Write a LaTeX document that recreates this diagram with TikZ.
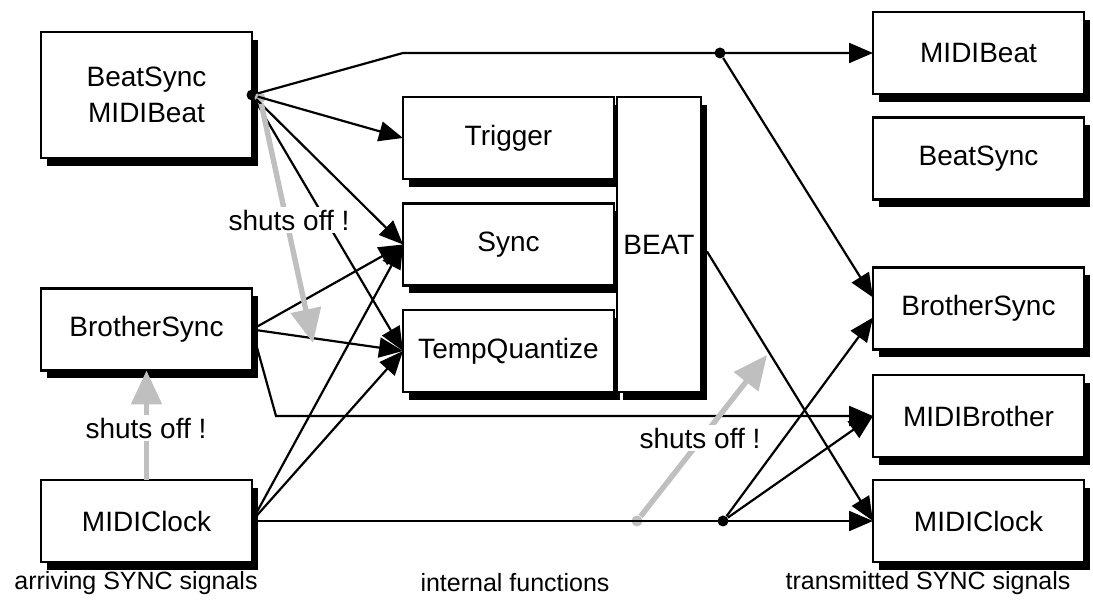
\documentclass[tikz,border=0pt]{standalone}
\usepackage{fontspec}
\setmainfont{Liberation Sans}
\usetikzlibrary{arrows.meta}
\usetikzlibrary{shadows}
\usetikzlibrary{positioning}

\begin{document}
\begin{tikzpicture}[x=0.5pt, y=-0.5pt,
    box/.style={draw, line width=1.3pt, fill=white, inner sep=0pt, outer sep=0pt,
      minimum width=105.5pt, minimum height=41pt, align=center,
      font=\fontsize{14}{18}\selectfont,
      drop shadow={shadow xshift=3pt, shadow yshift=-4pt, fill=black, opacity=1}},
    sig/.style={line width=1.1pt, -{Triangle[length=12pt, width=10pt]}},
    shut/.style={line width=2.7pt, black!25, -{Triangle[length=17pt, width=15pt]}},
    shutlbl/.style={fill=white, inner sep=1.5pt, font=\fontsize{14}{17}\selectfont},
    dot/.style={circle, fill=black, inner sep=0pt, minimum size=5.5pt},
    gdot/.style={circle, fill=black!25, inner sep=0pt, minimum size=5.5pt},
    caption/.style={font=\fontsize{12.5}{15}\selectfont}]
    \useasboundingbox (0,0) rectangle (1093,603);

    % arriving signals
    \node[box, minimum height=63pt] (lbeat) at (146.5,95) {BeatSync\\ MIDIBeat};
    \node[box] (lbro) at (146.5,329.5) {BrotherSync};
    \node[box] (lclk) at (146.5,521) {MIDIClock};

    % internal functions
    \node[box] (trig) at (508.5,138) {Trigger};
    \node[box] (sync) at (508.5,244.5) {Sync};
    \node[box] (tq) at (508.5,351) {TempQuantize};
    \node[box, minimum width=42pt, minimum height=147.5pt] (beat) at (659,244.5) {BEAT};

    % transmitted signals
    \node[box] (rbeat) at (978.5,53) {MIDIBeat};
    \node[box] (rbsync) at (978.5,158.5) {BeatSync};
    \node[box] (rbro) at (978.5,308.5) {BrotherSync};
    \node[box] (rmbro) at (978.5,416) {MIDIBrother};
    \node[box] (rclk) at (978.5,521) {MIDIClock};

    % branch points
    \node[dot] (bd) at (lbeat.east) {};
    \node[gdot] (gd) at (260,98) {};
    \node[dot] (td) at (720,53) {};
    \node[dot] (cd) at (723,521) {};
    \node[gdot] (gc) at (637,521) {};
    \coordinate (bend1) at (403,53);
    \coordinate (bend2) at (276,416);

    \draw[sig] (bd) -- (bend1) -- (rbeat.west);
    \draw[sig] (td) -- ([yshift=5.5pt]rbro.west);
    \draw[sig] (bd) -- (trig.west);
    \draw[sig] (bd) -- (sync.west);
    \draw[sig] (bd) -- (tq.west);

    \draw[sig] (lbro.east) -- (sync.west);
    \draw[sig] (lbro.east) -- (tq.west);
    \draw[sig] (lbro.east) -- (bend2) -- (rmbro.west);

    \draw[sig] (lclk.east) -- (sync.west);
    \draw[sig] (lclk.east) -- (tq.west);
    \draw[sig] (lclk.east) -- (rclk.west);
    \draw[sig] (cd) -- ([yshift=-4.5pt]rbro.west);
    \draw[sig] (cd) -- (rmbro.west);
    \draw[sig] ([xshift=3pt, yshift=-3.5pt]beat.east) -- (rclk.west);

    % shut off arrows
    \coordinate (g1) at (313,343);
    \coordinate (g2) at (767,355);
    \draw[shut] (gd) -- (g1);
    \draw[shut] (lclk.north) -- (lbro.south);
    \draw[shut] (gc) -- (g2);
    \node[shutlbl] (s1) at (289,220) {shuts off !};
    \node[shutlbl] (s2) at (146,428) {shuts off !};
    \node[shutlbl] (s3) at (700,438) {shuts off !};

    % captions
    \node[caption] (c1) at (136,583) {arriving SYNC signals};
    \node[caption] (c2) at (515,583) {internal functions};
    \node[caption] (c3) at (928,583) {transmitted SYNC signals};
  \end{tikzpicture}
\end{document}
